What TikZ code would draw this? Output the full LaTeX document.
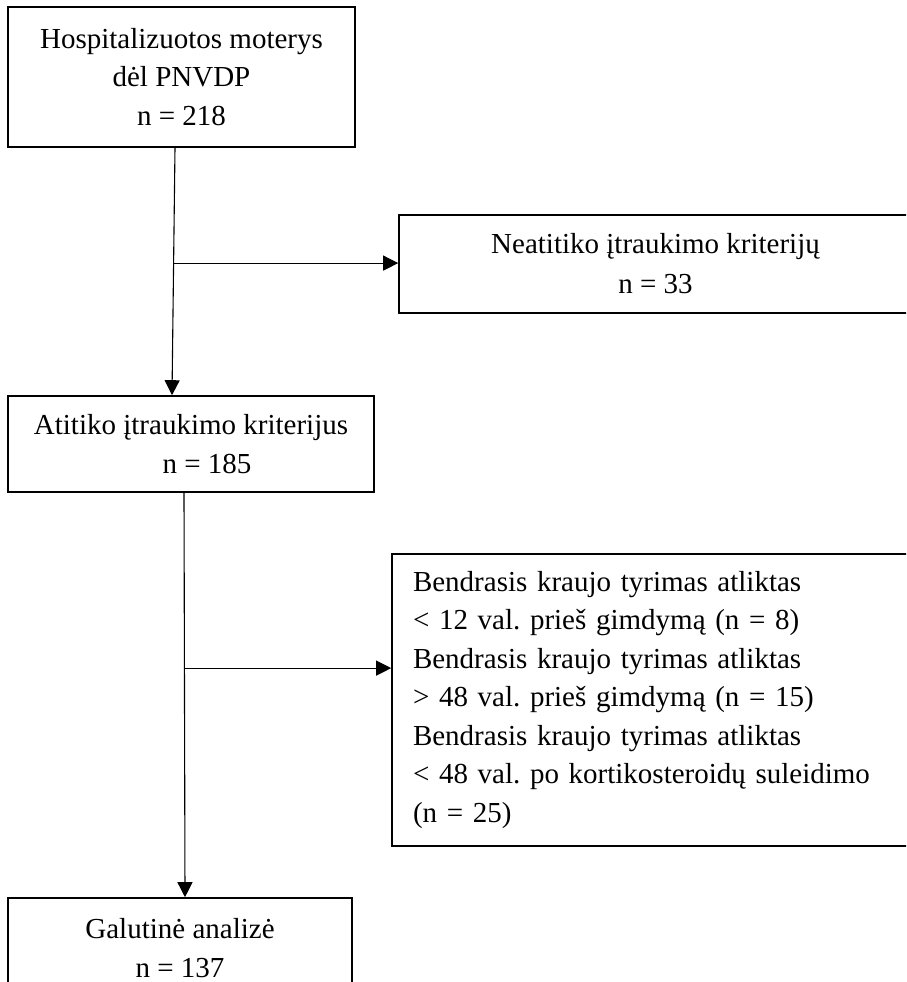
\documentclass[tikz,border=0pt]{standalone}
\usepackage{fontspec}
\setmainfont{Liberation Serif}
\usetikzlibrary{arrows.meta}
\begin{document}
\frenchspacing
\begin{tikzpicture}[x=1pt,y=-1pt,
  box/.style={draw, line width=1.6pt, inner sep=0pt,
    font=\fontsize{29}{38.5}\selectfont},
  link/.style={line width=1.1pt},
  arr/.style={link, -{Triangle[length=15pt,width=15pt]}}]
\useasboundingbox (0,0) rectangle (906,982);
\clip (0,0) rectangle (906,982);

% boxes of the flow
\node[box, minimum width=347pt, minimum height=140pt, align=center]
  (hosp) at (181.5,77) {Hospitalizuotos moterys\\dėl PNVDP\\n = 218};
\node[box, minimum width=513pt, minimum height=98pt, align=center,
  font=\fontsize{29}{40}\selectfont]
  (excl) at (655.5,264) {Neatitiko įtraukimo kriterijų\\n = 33};
\node[box, minimum width=366pt, minimum height=96pt, align=center]
  (incl) at (191,444) {Atitiko įtraukimo kriterijus\\\hspace*{32pt}n = 185};
\node[box, minimum height=292pt, text width=478pt, inner xsep=21pt, align=left]
  (crit) at (652,700) {Bendrasis kraujo tyrimas atliktas\\
  < 12 val. prieš gimdymą (n = 8)\\
  Bendrasis kraujo tyrimas atliktas\\
  > 48 val. prieš gimdymą (n = 15)\\
  Bendrasis kraujo tyrimas atliktas\\
  < 48 val. po kortikosteroidų suleidimo\\
  (n = 25)};
\node[box, minimum width=344pt, minimum height=100pt, align=center]
  (final) at (180,948) {Galutinė analizė\\n = 137};

% connectors
\coordinate (top1) at ([xshift=-6.5pt]hosp.south);
\coordinate (bot1) at ([xshift=-19pt]incl.north);
\draw[arr] (top1) -- (bot1);
\path (top1) -- (bot1) coordinate[pos=0.466] (j1);
\draw[arr] (j1) -- (j1 -| excl.west);

\coordinate (top2) at ([xshift=-7pt]incl.south);
\coordinate (bot2) at ([xshift=5pt]final.north);
\draw[arr] (top2) -- (bot2);
\path (top2) -- (bot2) coordinate[pos=0.4335] (j2);
\draw[arr] (j2) -- (j2 -| crit.west);
\end{tikzpicture}
\end{document}
